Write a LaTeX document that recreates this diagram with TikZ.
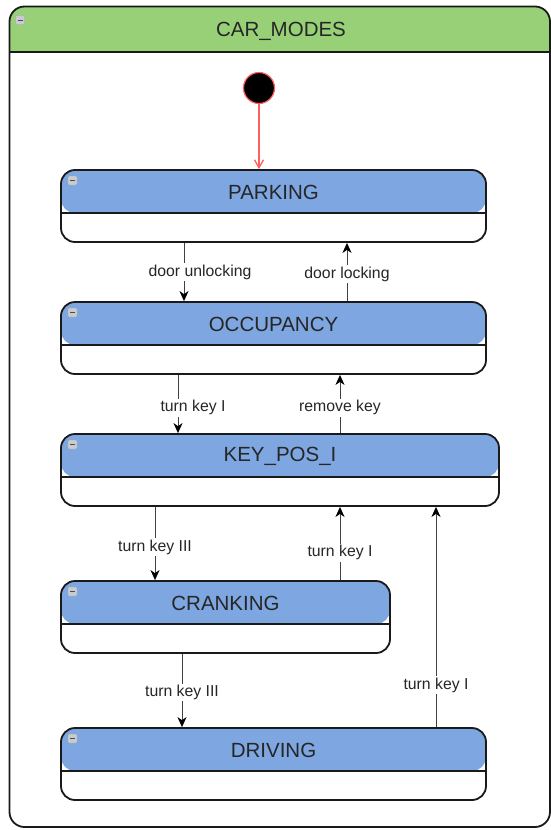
\documentclass[tikz,border=0pt]{standalone}
\usepackage{fontspec}
\setmainfont{Liberation Sans}
\usetikzlibrary{arrows.meta}

\definecolor{hdrgreen}{HTML}{97D077}
\definecolor{hdrblue}{HTML}{7EA6E0}
\definecolor{edgegray}{HTML}{1A1A1A}
\definecolor{initred}{HTML}{FF5F5F}
\definecolor{icongray}{HTML}{C8CCD0}

\tikzset{
  statebox/.style={draw=edgegray, line width=1.8pt, rounded corners=14pt,
    fill=white, inner sep=0pt, minimum height=72pt,
    path picture={
      \fill[hdrblue] (path picture bounding box.north west)
        rectangle ([yshift=-43pt]path picture bounding box.north east);
      \draw[edgegray, line width=1.8pt]
        ([yshift=-43pt]path picture bounding box.north west)
        -- ([yshift=-43pt]path picture bounding box.north east);
      \fill[icongray, draw=gray!70, line width=0.4pt, rounded corners=1pt]
        ([xshift=7pt,yshift=-6pt]path picture bounding box.north west)
        rectangle ++(9pt,-9pt);
      \draw[gray!60!black, line width=0.8pt]
        ([xshift=9pt,yshift=-10.5pt]path picture bounding box.north west)
        -- ++(5pt,0);
    }},
  statetitle/.style={font=\fontsize{20.5}{24}\selectfont, text=black!85},
  trans/.style={draw=black!75, line width=1pt, -{Stealth[length=10pt,width=9pt,inset=3pt,black]}},
  tlabel/.style={fill=white, inner sep=1.5pt, yshift=-2pt, font=\fontsize{15.8}{18}\selectfont, text=black!85},
}

\begin{document}
\begin{tikzpicture}[x=1pt, y=-1pt]
\useasboundingbox (0,0) rectangle (551,830);

% outer composite state
\begin{scope}
  \clip[rounded corners=15pt] (9.5,6.5) rectangle (550,827);
  \fill[white] (9.5,6.5) rectangle (550,827);
  \fill[hdrgreen] (9.5,6.5) rectangle (550,52);
  \draw[edgegray, line width=1.8pt] (9.5,52) -- (550,52);
\end{scope}
\draw[edgegray, line width=1.8pt, rounded corners=15pt] (9.5,6.5) rectangle (550,827);
\fill[icongray, draw=gray!70, line width=0.4pt, rounded corners=1pt] (15.5,15.5) rectangle ++(9,9);
\draw[gray!60!black, line width=0.8pt] (17.5,20) -- ++(5,0);
\node[statetitle] (title) at (281,31) {CAR\_MODES};

% initial pseudo-state
\node[circle, fill=black, draw=initred, line width=1.2pt, minimum size=31pt, inner sep=0pt]
  (init) at (259,88) {};

% states
\node[statebox, minimum width=425pt] (parking)  at (273.5,206) {};
\node[statebox, minimum width=425pt] (occupancy) at (273.5,338) {};
\node[statebox, minimum width=438pt] (keypos)   at (280,470) {};
\node[statebox, minimum width=329pt] (cranking) at (225.5,617) {};
\node[statebox, minimum width=425pt] (driving)  at (273.5,764) {};

\node[statetitle] at ([yshift=-23pt]parking.north)   {PARKING};
\node[statetitle] at ([yshift=-23pt]occupancy.north) {OCCUPANCY};
\node[statetitle] at ([yshift=-23pt]keypos.north)    {KEY\_POS\_I};
\node[statetitle] at ([yshift=-23pt]cranking.north)  {CRANKING};
\node[statetitle] at ([yshift=-23pt]driving.north)   {DRIVING};

% initial transition
\draw[initred, line width=1.3pt, -{Straight Barb[length=8pt,width=9pt]}]
  (init.south) -- (init.south |- parking.north);

% transitions
\draw[trans] (parking.south -| 184,0) -- node[tlabel, pos=0.47, xshift=16pt] {door unlocking} (occupancy.north -| 184,0);
\draw[trans] (occupancy.north -| 347,0) -- node[tlabel, pos=0.5] {door locking} (parking.south -| 347,0);

\draw[trans] (occupancy.south -| 178,0) -- node[tlabel, pos=0.53, xshift=15pt] {turn key I} (keypos.north -| 178,0);
\draw[trans] (keypos.north -| 340,0) -- node[tlabel, pos=0.47] {remove key} (occupancy.south -| 340,0);

\draw[trans] (keypos.south -| 155,0) -- node[tlabel, pos=0.52] {turn key III} (cranking.north -| 155,0);
\draw[trans] (cranking.north -| 340,0) -- node[tlabel, pos=0.4] {turn key I} (keypos.south -| 340,0);

\draw[trans] (cranking.south -| 182,0) -- node[tlabel, pos=0.5] {turn key III} (driving.north -| 182,0);
\draw[trans] (driving.north -| 436,0) -- node[tlabel, pos=0.2] {turn key I} (keypos.south -| 436,0);
\end{tikzpicture}
\end{document}
